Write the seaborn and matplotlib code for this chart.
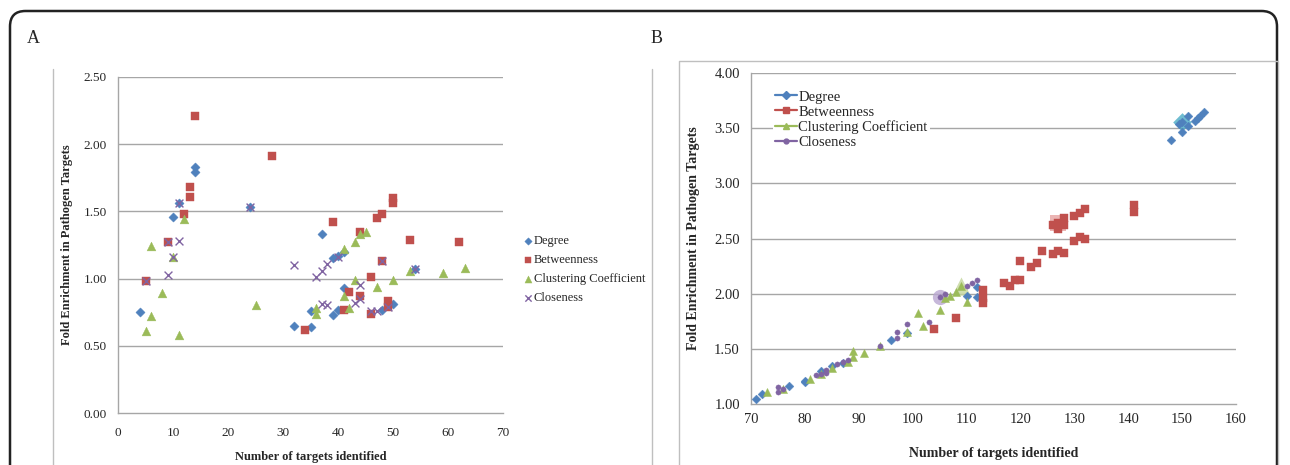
import numpy as np
import pandas as pd
import matplotlib
matplotlib.use("Agg")
import matplotlib.pyplot as plt
import seaborn as sns
from matplotlib.patches import FancyBboxPatch
from matplotlib.lines import Line2D

# ---------------- data ----------------
series = ["Degree", "Betweenness", "Clustering Coefficient", "Closeness"]
colors = ["#4F81BD", "#C0504D", "#9BBB59", "#8064A2"]

# Panel A
a_degree_x = [4, 10, 11, 14, 14, 24, 32, 35, 35, 37, 39, 39, 40, 40, 41, 41, 48, 50, 54]
a_degree_y = [0.75, 1.46, 1.56, 1.83, 1.79, 1.53, 0.65, 0.64, 0.76, 1.33, 1.15, 0.73, 1.17, 0.77, 1.20, 0.93, 0.77, 0.81, 1.07]
a_betw_x = [5, 9, 12, 13, 13, 14, 28, 34, 39, 41, 42, 44, 44, 46, 46, 47, 48, 48, 49, 49, 50, 50, 53, 62]
a_betw_y = [0.98, 1.27, 1.48, 1.68, 1.61, 2.21, 1.91, 0.62, 1.42, 0.77, 0.90, 1.35, 0.87, 1.01, 0.74, 1.45, 1.48, 1.13, 0.83, 0.79, 1.60, 1.56, 1.29, 1.27]
a_clust_x = [5, 6, 6, 8, 10, 11, 12, 25, 36, 36, 41, 41, 42, 43, 43, 44, 45, 47, 50, 53, 59, 63]
a_clust_y = [0.61, 1.24, 0.72, 0.89, 1.16, 0.58, 1.44, 0.80, 0.78, 0.74, 1.22, 0.87, 0.78, 1.27, 0.99, 1.33, 1.35, 0.94, 0.99, 1.06, 1.04, 1.08]
a_close_x = [5, 9, 9, 10, 11, 11, 24, 32, 36, 37, 37, 38, 38, 40, 43, 44, 44, 46, 47, 48, 49, 54]
a_close_y = [0.98, 1.03, 1.27, 1.16, 1.28, 1.56, 1.53, 1.10, 1.01, 1.06, 0.81, 1.11, 0.80, 1.16, 0.82, 0.85, 0.95, 0.76, 0.76, 1.13, 0.79, 1.07]

# Panel B
b_degree_x = [71, 72, 77, 80, 80, 83, 85, 87, 96, 99, 110, 112, 112, 148, 149.5, 150, 150, 151, 151, 152.4, 152.9, 153.3, 154]
b_degree_y = [1.04, 1.09, 1.16, 1.21, 1.20, 1.30, 1.34, 1.37, 1.575, 1.64, 1.98, 2.06, 1.97, 3.39, 3.54, 3.47, 3.56, 3.61, 3.52, 3.57, 3.59, 3.61, 3.65]
b_betw_x = [104, 108, 113, 113, 113, 117, 118, 119, 120, 120, 122, 123, 124, 126, 127, 128, 126, 127, 127, 128, 128, 130, 131, 132, 130, 131, 132, 141, 141]
b_betw_y = [1.68, 1.78, 2.03, 1.96, 1.91, 2.10, 2.07, 2.12, 2.12, 2.30, 2.24, 2.28, 2.39, 2.36, 2.39, 2.37, 2.62, 2.64, 2.59, 2.62, 2.69, 2.70, 2.73, 2.77, 2.48, 2.51, 2.50, 2.80, 2.74]
b_clust_x = [73, 76, 81, 83, 85, 88, 89, 89, 91, 94, 99, 101, 102, 105, 106, 107, 108, 109, 110]
b_clust_y = [1.11, 1.13, 1.22, 1.27, 1.32, 1.38, 1.48, 1.42, 1.46, 1.52, 1.65, 1.82, 1.71, 1.85, 1.96, 1.98, 2.01, 2.07, 1.92]
b_close_x = [75, 75, 76, 82, 83, 84, 84, 86, 87, 88, 94, 97, 97, 99, 103, 105, 106, 110, 111, 112]
b_close_y = [1.15, 1.11, 1.13, 1.26, 1.27, 1.31, 1.28, 1.36, 1.38, 1.40, 1.52, 1.60, 1.65, 1.72, 1.74, 1.97, 2.00, 2.07, 2.10, 2.12]

# highlighted (selected) points in panel B
b_high_x = [150, 127, 109, 105]
b_high_y = [3.56, 2.64, 2.07, 1.97]
b_high_colors = ["#4BACC6", "#E6A3A1", "#C3D69B", "#B9A7D1"]

a_xticks = [0, 10, 20, 30, 40, 50, 60, 70]
a_yticks = [0.0, 0.5, 1.0, 1.5, 2.0, 2.5]
b_xticks = [70, 80, 90, 100, 110, 120, 130, 140, 150, 160]
b_yticks = [1.0, 1.5, 2.0, 2.5, 3.0, 3.5, 4.0]

xlabel = "Number of targets identified"
ylabel = "Fold Enrichment in Pathogen Targets"

# ---------------- style ----------------
sns.set_style("white")
plt.rcParams["font.family"] = ["Liberation Serif", "DejaVu Serif"]

W, H = 1290, 465
fig = plt.figure(figsize=(W / 100, H / 100), dpi=100)

def fx(px):
    return px / W

def fy(py):
    return 1 - py / H

# outer rounded frame
frame = FancyBboxPatch((fx(10), fy(520)), fx(1277) - fx(10), fy(11) - fy(520),
                       boxstyle="round,pad=0,rounding_size=0.012",
                       transform=fig.transFigure, fill=False, ec="#222222", lw=1.8,
                       mutation_aspect=W / H)
fig.patches.append(frame)

grey_box = "#BFBFBF"
# panel A chart box (side lines)
fig.add_artist(Line2D([fx(53), fx(53)], [fy(69), 0], color=grey_box, lw=1, transform=fig.transFigure))
fig.add_artist(Line2D([fx(652), fx(652)], [fy(69), 0], color=grey_box, lw=1, transform=fig.transFigure))
# panel B chart box
fig.add_artist(Line2D([fx(679), fx(679), fx(1278), fx(1278)], [0, fy(61), fy(61), 0],
                      color=grey_box, lw=1, transform=fig.transFigure))

fig.text(fx(27), fy(43), "A", fontsize=13, ha="left", va="baseline")
fig.text(fx(651), fy(43), "B", fontsize=13, ha="left", va="baseline")

axA = fig.add_axes([fx(118), fy(413), fx(503) - fx(118), fy(77) - fy(413)])
axB = fig.add_axes([fx(751), fy(403.7), fx(1236) - fx(751), fy(73.3) - fy(403.7)])

grid_c = "#A6A6A6"
spine_c = "#A6A6A6"

# ---------------- panel A ----------------
dfA = pd.concat([
    pd.DataFrame({"x": a_degree_x, "y": a_degree_y, "s": series[0]}),
    pd.DataFrame({"x": a_betw_x, "y": a_betw_y, "s": series[1]}),
    pd.DataFrame({"x": a_clust_x, "y": a_clust_y, "s": series[2]}),
    pd.DataFrame({"x": a_close_x, "y": a_close_y, "s": series[3]}),
])
markersA = ["D", "s", "^", "x"]
sizesA = [22, 36, 40, 32]
for name, col, m, sz in zip(series, colors, markersA, sizesA):
    d = dfA[dfA["s"] == name]
    if m == "x":
        sns.scatterplot(data=d, x="x", y="y", ax=axA, marker=m, s=sz, color=col,
                        linewidth=1.0, label=name, zorder=3)
    else:
        sns.scatterplot(data=d, x="x", y="y", ax=axA, marker=m, s=sz, color=col,
                        edgecolor=col, linewidth=0.3, label=name, zorder=3)

axA.set_xlim(0, 70)
axA.set_ylim(0, 2.5)
axA.set_xticks(a_xticks)
axA.set_xticklabels([str(v) for v in a_xticks])
axA.set_yticks(a_yticks)
axA.set_yticklabels([f"{v:.2f}" for v in a_yticks])
for v in a_yticks[1:]:
    axA.axhline(v, color=grid_c, lw=1.0, zorder=1)
for side in ["top", "right"]:
    axA.spines[side].set_visible(False)
for side in ["left", "bottom"]:
    axA.spines[side].set_color(spine_c)
    axA.spines[side].set_linewidth(1.0)
axA.tick_params(axis="y", length=5, width=1, color=spine_c, labelsize=9.5, pad=3)
axA.tick_params(axis="x", length=3, width=1, color=spine_c, labelsize=9.5, pad=7)
axA.set_xlabel(xlabel, fontsize=9, fontweight="bold")
axA.set_ylabel(ylabel, fontsize=9, fontweight="bold")
axA.yaxis.set_label_coords(-0.117, 0.5)
axA.xaxis.set_label_coords(0.5, -0.112)
axA.legend(loc="center left", bbox_to_anchor=(1.035, 0.427), frameon=False,
           fontsize=9, handletextpad=0.0, labelspacing=0.55, markerscale=0.8,
           borderaxespad=0, handlelength=1.0)

# ---------------- panel B ----------------
dfB = pd.concat([
    pd.DataFrame({"x": b_degree_x, "y": b_degree_y, "s": series[0]}),
    pd.DataFrame({"x": b_betw_x, "y": b_betw_y, "s": series[1]}),
    pd.DataFrame({"x": b_clust_x, "y": b_clust_y, "s": series[2]}),
    pd.DataFrame({"x": b_close_x, "y": b_close_y, "s": series[3]}),
])
markersB = ["D", "s", "^", "o"]
sizesB = [20, 32, 34, 14]

# highlight halos
hmark = ["D", "s", "^", "o"]
hsize = [90, 130, 170, 120]
for hx, hy, hc, hm, hs in zip(b_high_x, b_high_y, b_high_colors, hmark, hsize):
    axB.scatter([hx], [hy], marker=hm, s=hs, color=hc, alpha=0.8, linewidths=0, zorder=2)

for name, col, m, sz in zip(series, colors, markersB, sizesB):
    d = dfB[dfB["s"] == name]
    sns.scatterplot(data=d, x="x", y="y", ax=axB, marker=m, s=sz, color=col,
                    edgecolor=col, linewidth=0.3, legend=False, zorder=3)

axB.set_xlim(70, 160)
axB.set_ylim(1.0, 4.0)
axB.set_xticks(b_xticks)
axB.set_xticklabels([str(v) for v in b_xticks])
axB.set_yticks(b_yticks)
axB.set_yticklabels([f"{v:.2f}" for v in b_yticks])
for v in b_yticks[1:]:
    axB.axhline(v, color=grid_c, lw=1.0, zorder=1)
for side in ["top", "right"]:
    axB.spines[side].set_visible(False)
for side in ["left", "bottom"]:
    axB.spines[side].set_color(spine_c)
    axB.spines[side].set_linewidth(1.0)
axB.tick_params(axis="y", length=5, width=1, color=spine_c, labelsize=10.5, pad=3)
axB.tick_params(axis="x", length=0, labelsize=10.5, pad=7)
axB.set_xlabel(xlabel, fontsize=10, fontweight="bold")
axB.set_ylabel(ylabel, fontsize=10, fontweight="bold")
axB.yaxis.set_label_coords(-0.105, 0.5)
axB.xaxis.set_label_coords(0.5, -0.13)

handlesB = [Line2D([0], [0], color=c, marker=m, markersize=ms, lw=1.6)
            for c, m, ms in zip(colors, ["D", "s", "^", "o"], [4, 5, 5, 3.5])]
leg = axB.legend(handlesB, series, loc="upper left", bbox_to_anchor=(0.045, 0.955),
                 frameon=True, fontsize=10.5, handletextpad=0.1, labelspacing=0.12,
                 handlelength=1.5, borderaxespad=0, borderpad=0.15)
leg.get_frame().set_facecolor("white")
leg.get_frame().set_edgecolor("none")
leg.get_frame().set_alpha(1)

fig.savefig("out.png", dpi=100)
